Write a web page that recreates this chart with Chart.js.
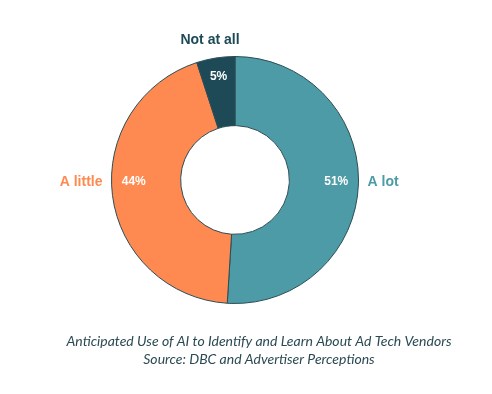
<!DOCTYPE html>
<html>
<head>
<meta charset="utf-8">
<script src="https://cdn.jsdelivr.net/npm/chart.js@4"></script>
<style>
  html, body { margin: 0; padding: 0; background: #fff; }
  #wrap { width: 492px; height: 394px; position: relative; }
</style>
</head>
<body>
<div id="wrap"><canvas id="chart" width="492" height="394"></canvas></div>
<script>
'use strict';

const categories = ['A lot', 'A little', 'Not at all'];
const shares = [51, 44, 5];
const sliceColors = ['#4c9ba6', '#fe8a51', '#1d4a56'];
const captionLines = [
	'Anticipated Use of AI to Identify and Learn About Ad Tech Vendors',
	'Source: DBC and Advertiser Perceptions',
];

// percent inside each slice, category name outside it
// side slices get their labels level with the centre, like the original
const sliceLabels = {
	id: 'sliceLabels',
	afterDatasetsDraw(chart) {
		const ctx = chart.ctx;
		const meta = chart.getDatasetMeta(0);
		ctx.save();
		ctx.textBaseline = 'middle';
		meta.data.forEach((arc, i) => {
			const mid = (arc.startAngle + arc.endAngle) / 2;
			const cos = Math.cos(mid);
			const sin = Math.sin(mid);
			const side = Math.abs(cos) > 0.5;

			let px, py, lx, ly;
			if (side) {
				const dir = cos > 0 ? 1 : -1;
				px = arc.x + dir * arc.outerRadius * 0.82;
				py = arc.y + 2;
				lx = arc.x + dir * (arc.outerRadius + 9);
				ly = arc.y + 2;
				ctx.textAlign = dir > 0 ? 'left' : 'right';
			} else {
				px = arc.x + cos * arc.outerRadius * 0.85;
				py = arc.y + sin * arc.outerRadius * 0.85;
				lx = arc.x + cos * (arc.outerRadius + 17) - 3;
				ly = arc.y - arc.outerRadius - 16;
				ctx.textAlign = 'center';
			}

			ctx.fillStyle = sliceColors[i];
			ctx.font = 'bold 14px "Liberation Sans", Arial, sans-serif';
			ctx.fillText(categories[i], lx, ly);

			ctx.textAlign = 'center';
			ctx.fillStyle = '#ffffff';
			ctx.font = 'bold 12px "Liberation Sans", Arial, sans-serif';
			ctx.fillText(shares[i] + '%', px, py);
		});
		ctx.restore();
	},
};

const caption = {
	id: 'caption',
	afterDraw(chart) {
		const ctx = chart.ctx;
		ctx.save();
		ctx.fillStyle = '#2b4a53';
		ctx.font = 'italic 14px Lato, "Open Sans", sans-serif';
		ctx.textAlign = 'center';
		ctx.textBaseline = 'middle';
		captionLines.forEach((line, i) => {
			ctx.fillText(line, 259, 341 + i * 18);
		});
		ctx.restore();
	},
};

function makeDonut() {
	const ctx = document.querySelector('#chart').getContext('2d');
	const configuration = {
		type: 'doughnut',
		data: {
			labels: categories,
			datasets: [
				{
					data: shares,
					backgroundColor: sliceColors,
					borderColor: '#2b4d55',
					borderWidth: 1,
				},
			],
		},
		options: {
			responsive: false,
			animation: false,
			cutout: '44%',
			layout: {
				padding: { left: 111, right: 133, top: 56, bottom: 90 },
			},
			plugins: {
				legend: { display: false },
				tooltip: { enabled: false },
			},
		},
		plugins: [sliceLabels, caption],
	};
	return new Chart(ctx, configuration);
}

makeDonut();
</script>
</body>
</html>
